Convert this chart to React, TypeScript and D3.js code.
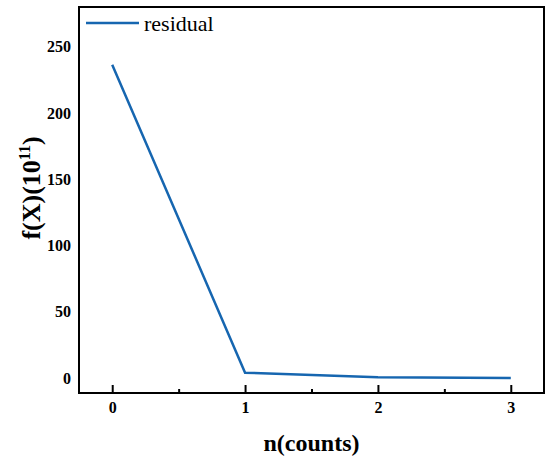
import React, { useEffect, useRef } from 'react';
import * as d3 from 'd3';

// residual values
const counts = [0, 1, 2, 3];
const residual = [236.5, 4, 0.6, 0];
const xTicks = [0, 1, 2, 3];
const xMinorTicks = [0.5, 1.5, 2.5];
const yTicks = [0, 50, 100, 150, 200, 250];

const App: React.FC = () => {
  const ref = useRef<SVGSVGElement>(null);

  useEffect(() => {
    if (!ref.current) return;
    const svg = d3.select(ref.current);
    svg.selectAll('*').remove();

    const left = 79;
    const right = 544;
    const top = 7;
    const bottom = 393;
    const font = '"Liberation Serif", "Times New Roman", serif';
    const colour = '#1666b0';

    const x = d3.scaleLinear().domain([-0.25, 3.25]).range([left, right]);
    const y = d3.scaleLinear().domain([-11.3, 280]).range([bottom, top]);

    // frame
    svg
      .append('rect')
      .attr('x', left)
      .attr('y', top)
      .attr('width', right - left)
      .attr('height', bottom - top)
      .attr('fill', 'none')
      .attr('stroke', '#000')
      .attr('stroke-width', 2);

    // x ticks point inward
    const xAxis = svg.append('g').attr('transform', 'translate(0,' + bottom + ')');
    xAxis
      .call(d3.axisBottom(x).tickValues(xTicks).tickSize(-8).tickPadding(9).tickFormat(d3.format('d')))
      .call((g) => g.select('.domain').remove());
    xAxis.selectAll('line').attr('stroke-width', 2);
    xAxis
      .selectAll('text')
      .attr('font-family', font)
      .attr('font-weight', 'bold')
      .attr('font-size', 16)
      .attr('fill', '#000');

    const minor = svg.append('g').attr('transform', 'translate(0,' + bottom + ')');
    minor
      .call(d3.axisBottom(x).tickValues(xMinorTicks).tickSize(-4).tickFormat(() => ''))
      .call((g) => g.select('.domain').remove());
    minor.selectAll('line').attr('stroke-width', 2);

    // y labels only, no tick marks
    const yAxis = svg.append('g').attr('transform', 'translate(' + left + ',0)');
    yAxis
      .call(d3.axisLeft(y).tickValues(yTicks).tickSize(0).tickPadding(8))
      .call((g) => g.select('.domain').remove());
    yAxis
      .selectAll('text')
      .attr('font-family', font)
      .attr('font-weight', 'bold')
      .attr('font-size', 16)
      .attr('fill', '#000');

    // the series
    const line = d3
      .line<number>()
      .x((_, i) => x(counts[i]))
      .y((d) => y(d));

    svg
      .append('path')
      .datum(residual)
      .attr('fill', 'none')
      .attr('stroke', colour)
      .attr('stroke-width', 2.5)
      .attr('stroke-linejoin', 'miter')
      .attr('d', line);

    // legend
    svg
      .append('line')
      .attr('x1', 86)
      .attr('x2', 139)
      .attr('y1', 23)
      .attr('y2', 23)
      .attr('stroke', colour)
      .attr('stroke-width', 2.5);
    svg
      .append('text')
      .attr('x', 144)
      .attr('y', 31)
      .attr('font-family', font)
      .attr('font-size', 22)
      .text('residual');

    // axis titles
    svg
      .append('text')
      .attr('x', (left + right) / 2)
      .attr('y', 451)
      .attr('text-anchor', 'middle')
      .attr('font-family', font)
      .attr('font-weight', 'bold')
      .attr('font-size', 24)
      .text('n(counts)');

    const yTitle = svg
      .append('text')
      .attr('transform', 'translate(40,188) rotate(-90)')
      .attr('text-anchor', 'middle')
      .attr('font-family', font)
      .attr('font-weight', 'bold')
      .attr('font-size', 26);
    yTitle.append('tspan').text('f(X)(10');
    yTitle.append('tspan').attr('font-size', 16).attr('dy', -10).text('11');
    yTitle.append('tspan').attr('dy', 10).text(')');
  }, []);

  return (
    <svg
      ref={ref}
      width={550}
      height={463}
      style={{ position: 'absolute', left: 0, top: 0, background: '#fff' }}
    />
  );
};

export default App;
